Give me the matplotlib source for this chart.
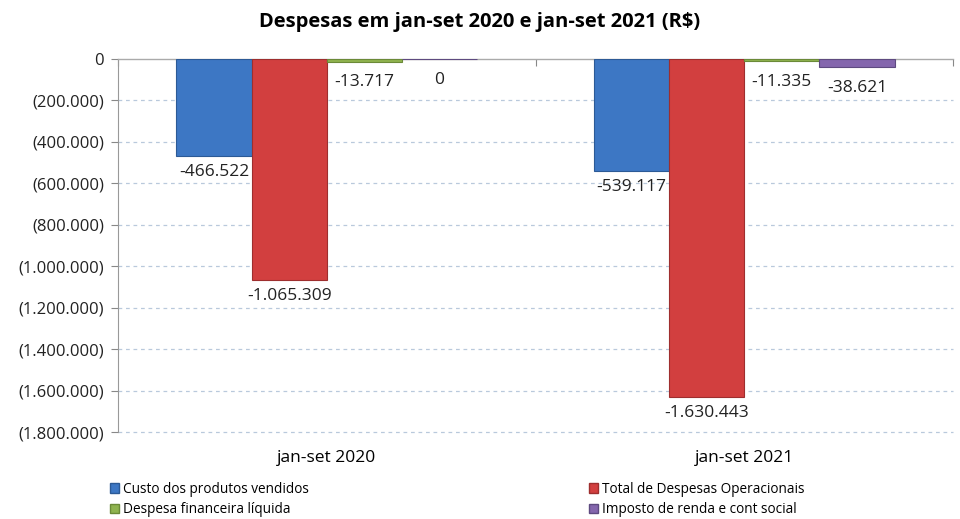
import matplotlib
matplotlib.use("Agg")
import matplotlib.pyplot as plt
import numpy as np
from matplotlib.ticker import FuncFormatter, FixedLocator
from matplotlib.patches import Patch

plt.rcParams['font.family'] = ['Open Sans', 'DejaVu Sans']

title = "Despesas em jan-set 2020 e jan-set 2021 (R$)"
categories = ["jan-set 2020", "jan-set 2021"]
series_names = ["Custo dos produtos vendidos", "Total de Despesas Operacionais",
                "Despesa financeira líquida", "Imposto de renda e cont social"]
custo = [-466522, -539117]
total_op = [-1065309, -1630443]
fin = [-13717, -11335]
imposto = [0, -38621]
values = [custo, total_op, fin, imposto]
colors = ["#3d77c4", "#d23f3f", "#8fb34f", "#8466ad"]
edges = ["#2c5a96", "#9e2e2e", "#6b8a38", "#5e4a80"]

fig = plt.figure(figsize=(9.6, 5.19), dpi=100)
ax = fig.add_axes([118/960, 1-432/519, (953-118)/960, (432-59)/519])

n = len(values)
bw = 0.72 / n
x = np.arange(len(categories))
for i, (vals, c, ec, name) in enumerate(zip(values, colors, edges, series_names)):
    pos = x + (i - (n - 1) / 2) * bw
    ax.bar(pos, vals, width=bw, color=c, edgecolor=ec, linewidth=0.8, label=name, zorder=3)
    for p, v in zip(pos, vals):
        lab = f"{v:,}".replace(",", ".")
        off = -6 if abs(v) > 100000 else -9
        ax.annotate(lab, (p, v), xytext=(0, off), textcoords="offset points",
                    ha="center", va="top", fontsize=12.5, color="#222222", zorder=4)

ax.set_xlim(-0.5, 1.5)
ax.set_ylim(-1800000, 0)
yt = np.arange(-1800000, 1, 200000)
ax.set_yticks(yt)
def fmt(v, _):
    v = int(round(v))
    if v == 0:
        return "0"
    return "(" + f"{abs(v):,}".replace(",", ".") + ")"
ax.yaxis.set_major_formatter(FuncFormatter(fmt))
ax.tick_params(axis='y', labelsize=12, color="#888888", length=5, width=0.8, direction='out',
               pad=5)
for lab in ax.get_yticklabels():
    lab.set_color("#222222")
ax.set_xticks(x)
ax.set_xticklabels(categories)
ax.tick_params(axis='x', which='major', length=0, pad=13, labelsize=12.5)
ax.xaxis.set_minor_locator(FixedLocator([-0.5, 0.5, 1.5]))
ax.tick_params(axis='x', which='minor', bottom=False, top=True, direction='in', length=5,
               width=0.8, color="#888888")

for yv in yt[:-1]:
    ax.axhline(yv, color="#b9c9dc", linestyle=(0, (3, 3)), linewidth=0.9, zorder=1,
               clip_on=False)

for s in ["right", "bottom"]:
    ax.spines[s].set_visible(False)
ax.spines["left"].set_color("#999999")
ax.spines["top"].set_color("#aaaaaa")
ax.spines["left"].set_linewidth(0.8)
ax.spines["top"].set_linewidth(1.0)

fig.text(480/960, 1-22/519, title, ha="center", va="center", fontsize=14.5, fontweight="bold")

def mk(i):
    return Patch(facecolor=colors[i], edgecolor=edges[i], label=series_names[i])

kw = dict(loc="upper left", frameon=False, fontsize=9.8, handlelength=0.7, handleheight=0.7,
          handletextpad=0.3, labelspacing=0.4, borderpad=0)
leg1 = fig.legend(handles=[mk(0), mk(2)], bbox_to_anchor=(103/960, 1-475/519), **kw)
leg2 = fig.legend(handles=[mk(1), mk(3)], bbox_to_anchor=(582/960, 1-475/519), **kw)

fig.savefig("out.png", dpi=100)
